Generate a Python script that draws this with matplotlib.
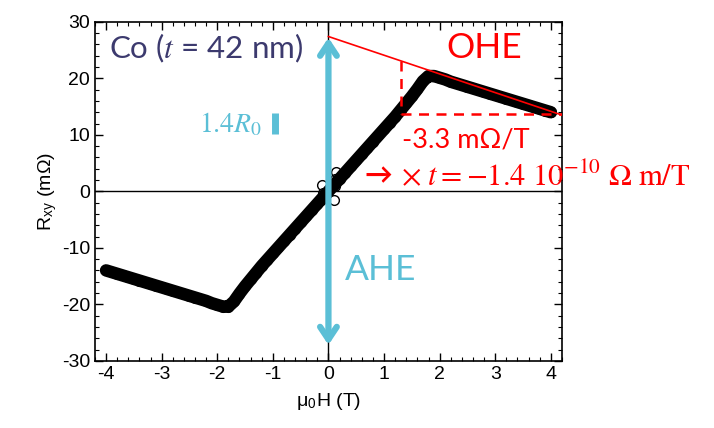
import numpy as np
import matplotlib.pyplot as plt
from matplotlib.ticker import MultipleLocator

plt.rcParams['font.family'] = ['Liberation Sans', 'DejaVu Sans']
plt.rcParams['mathtext.fontset'] = 'stix'
plt.rcParams['axes.unicode_minus'] = False

# field sweep (T) and transverse resistance (mOhm)
field = [-4.0, -3.9, -3.8, -3.7, -3.6, -3.5, -3.4, -3.3, -3.2, -3.1,
         -3.0, -2.9, -2.8, -2.7, -2.6, -2.5, -2.4, -2.3, -2.2, -2.1,
         -2.0, -1.9, -1.8, -1.7, -1.6, -1.5, -1.4, -1.3, -1.2, -1.1,
         -1.0, -0.9, -0.8, -0.7, -0.6, -0.5, -0.4, -0.3, -0.2, -0.1,
         0.0, 0.1, 0.2, 0.3, 0.4, 0.5, 0.6, 0.7, 0.8, 0.9,
         1.0, 1.1, 1.2, 1.3, 1.4, 1.5, 1.6, 1.7, 1.8, 1.9,
         2.0, 2.1, 2.2, 2.3, 2.4, 2.5, 2.6, 2.7, 2.8, 2.9,
         3.0, 3.1, 3.2, 3.3, 3.4, 3.5, 3.6, 3.7, 3.8, 3.9, 4.0]
rxy = [-14.0, -14.3, -14.6, -14.9, -15.2, -15.5, -15.8, -16.1, -16.4, -16.7,
       -17.0, -17.3, -17.6, -17.9, -18.2, -18.5, -18.8, -19.1, -19.4, -19.8,
       -20.1, -20.4, -20.4, -19.5, -18.1, -16.8, -15.6, -14.4, -13.2, -12.1,
       -11.0, -9.9, -8.8, -7.7, -6.6, -5.5, -4.4, -3.3, -2.2, -1.1,
       0.0, 1.1, 2.2, 3.3, 4.4, 5.5, 6.6, 7.7, 8.8, 9.9,
       11.0, 12.1, 13.2, 14.4, 15.6, 16.8, 18.1, 19.5, 20.4, 20.4,
       20.1, 19.8, 19.4, 19.1, 18.8, 18.5, 18.2, 17.9, 17.6, 17.3,
       17.0, 16.7, 16.4, 16.1, 15.8, 15.5, 15.2, 14.9, 14.6, 14.3, 14.0]
# a few scattered points near zero field
field_zero = [-0.12, -0.1, -0.14, 0.1, 0.12, 0.14, 0.11]
rxy_zero = [1.2, -0.3, -1.6, -1.5, 1.0, 3.5, 2.2]

# linear fit of the ordinary Hall part
fit_h = [0.0, 4.2]
fit_r = [27.4, 13.5]
slope_h = 1.3
slope_r_top = 23.1
slope_r_bot = 13.7

# anomalous Hall arrow and scale bar
ahe_top = 27.2
ahe_bot = -27.2
bar_h = -0.97
bar_r = [10.2, 13.9]

blue = '#5bbfd6'
navy = '#3c3a6e'
red = '#ff0000'

fig = plt.figure(figsize=(7.14, 4.28), dpi=100)
ax = fig.add_axes([0.133, 0.157, 0.654, 0.792])

ax.axhline(0, color='black', lw=1.0, zorder=1)
ax.axvline(0, color='black', lw=1.0, zorder=1)

ax.plot(field, rxy, color='black', lw=9, solid_capstyle='round',
        solid_joinstyle='round', zorder=2)
ax.plot(field, rxy, 'o', mfc='none', mec='black', ms=7, mew=1.0, zorder=3)
ax.plot(field_zero, rxy_zero, 'o', mfc='none', mec='black', ms=7, mew=1.0, zorder=3)

ax.plot(fit_h, fit_r, color=red, lw=1.2, zorder=4)
ax.plot([slope_h, slope_h], [slope_r_top, slope_r_bot], color=red, lw=1.8,
        ls=(0, (4, 3)), zorder=4)
ax.plot([slope_h, fit_h[1]], [slope_r_bot, slope_r_bot], color=red, lw=1.8,
        ls=(0, (4, 3)), zorder=4)

ax.annotate('', xy=(0, ahe_top), xytext=(0, ahe_bot),
            arrowprops=dict(arrowstyle='<->,head_length=0.9,head_width=0.6',
                            color=blue, lw=4.5, shrinkA=0, shrinkB=0), zorder=5)
ax.plot([bar_h, bar_h], bar_r, color=blue, lw=5, solid_capstyle='butt', zorder=5)

sans = ['Lato', 'DejaVu Sans']
ax.text(-3.95, 25.3, 'Co ($t$ = 42 nm)', color=navy, fontsize=22.5,
        family=sans, va='center', ha='left')
ax.text(-1.19, 11.8, r'$1.4R_0$', color=blue, fontsize=20, va='center', ha='right')
ax.text(0.3, -14.0, 'AHE', color=blue, fontsize=25.5,
        family=sans, va='center', ha='left')
ax.text(2.12, 25.3, 'OHE', color=red, fontsize=25.5,
        family=sans, va='center', ha='left')
ax.text(1.33, 9.0, '-3.3 mΩ/T', color=red, fontsize=19.5,
        family=sans, va='center', ha='left')
ax.text(0.65, 2.6, '→', color=red, fontsize=20, family=sans, weight='bold',
        va='center', ha='left')
ax.text(1.3, 2.6, r'$\times\ t = -1.4\ 10^{-10}\ \Omega\ \mathrm{m/T}$',
        color=red, fontsize=22, va='center', ha='left', clip_on=False)

ax.set_xlim(-4.2, 4.2)
ax.set_ylim(-30, 30)
ax.xaxis.set_major_locator(MultipleLocator(1))
ax.xaxis.set_minor_locator(MultipleLocator(0.2))
ax.yaxis.set_major_locator(MultipleLocator(10))
ax.yaxis.set_minor_locator(MultipleLocator(2))
ax.tick_params(which='both', direction='in', top=True, right=True, labelsize=14)
ax.tick_params(which='major', length=6, width=1)
ax.tick_params(which='minor', length=3, width=0.8)
for s in ax.spines.values():
    s.set_linewidth(1.2)

ax.set_xlabel(r'μ$_\mathregular{0}$H (T)', fontsize=14, labelpad=6)
ax.set_ylabel(r'R$_\mathregular{xy}$ (mΩ)', fontsize=14, labelpad=2)

fig.savefig('out.png', dpi=100)
